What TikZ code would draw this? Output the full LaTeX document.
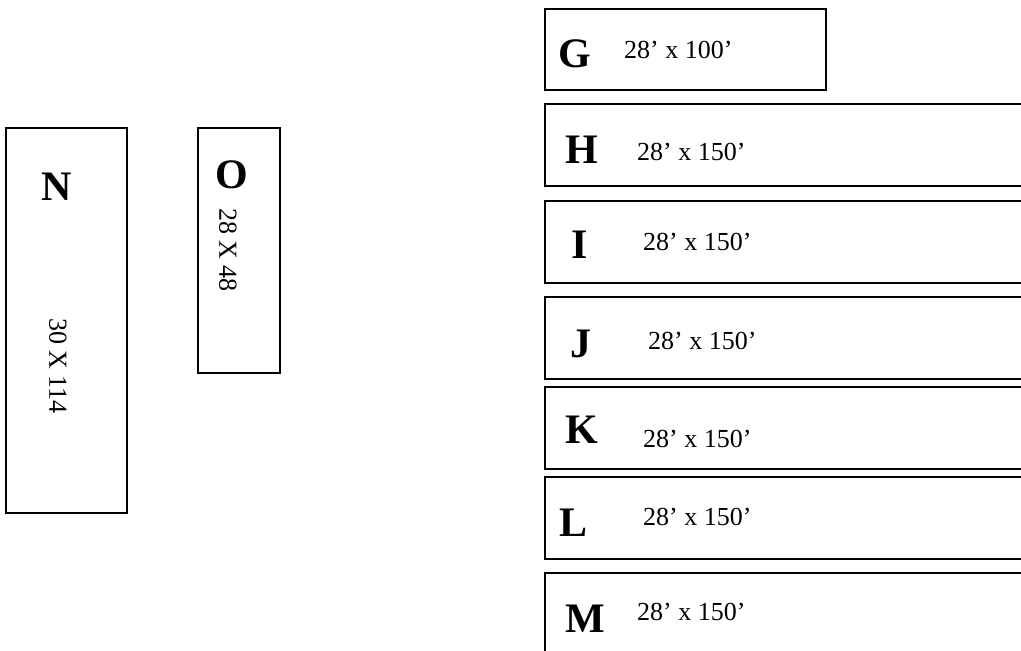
\documentclass[tikz,border=0pt]{standalone}
\usepackage{fontspec}
\setmainfont{Liberation Serif}
\tikzset{
  plot/.style={draw=black, line width=2pt},
  letter/.style={anchor=base west, inner sep=0pt, font=\fontsize{42}{42}\selectfont\bfseries},
  dim/.style={anchor=base west, inner sep=0pt, font=\fontsize{26}{26}\selectfont},
  vdim/.style={inner sep=0pt, rotate=-90, font=\fontsize{26}{26}\selectfont},
}
\begin{document}
\begin{tikzpicture}[x=1pt,y=-1pt]
\useasboundingbox (0,0) rectangle (1021,651);
\clip (0,0) rectangle (1021,651);
% plots on the right
\draw[plot] (545,9) rectangle (826,90);
\draw[plot] (545,104) rectangle (1040,186);
\draw[plot] (545,201) rectangle (1040,283);
\draw[plot] (545,297) rectangle (1040,379);
\draw[plot] (545,387) rectangle (1040,469);
\draw[plot] (545,477) rectangle (1040,559);
\draw[plot] (545,573) rectangle (1040,670);
% plots on the left
\draw[plot] (6,128) rectangle (127,513);
\draw[plot] (198,128) rectangle (280,373);
% labels
\node[letter] (G) at (558,67) {G};
\node[dim] (Gd) at (624,58) {28’ x 100’};
\node[letter] (H) at (565,163) {H};
\node[dim] (Hd) at (637,160) {28’ x 150’};
\node[letter] (I) at (571,258) {I};
\node[dim] (Id) at (643,250) {28’ x 150’};
\node[letter] (J) at (570,357) {J};
\node[dim] (Jd) at (648,349) {28’ x 150’};
\node[letter] (K) at (565,443) {K};
\node[dim] (Kd) at (643,447) {28’ x 150’};
\node[letter] (L) at (559,536) {L};
\node[dim] (Ld) at (643,525) {28’ x 150’};
\node[letter] (M) at (565,632) {M};
\node[dim] (Md) at (637,620) {28’ x 150’};
\node[letter, anchor=base] (N) at (57,200) {N};
\node[vdim] (Nd) at (58,366) {30 X 114};
\node[letter, anchor=base] (O) at (232,188) {O};
\node[vdim] (Od) at (228,250) {28 X 48};
\end{tikzpicture}
\end{document}
